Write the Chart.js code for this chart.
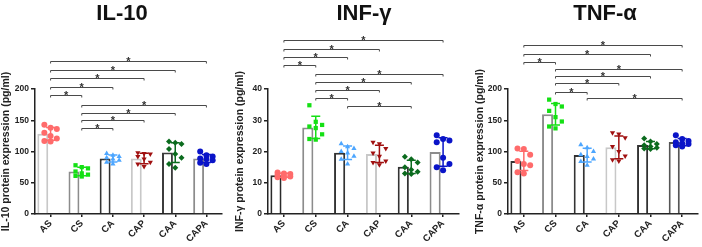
<!DOCTYPE html>
<html><head><meta charset="utf-8">
<script src="https://cdn.jsdelivr.net/npm/chart.js@4.4.1/dist/chart.umd.min.js"></script>
<style>
html,body{margin:0;padding:0;background:#fff;}
#wrap{display:flex;width:702px;height:247px;}
.p{position:relative;width:234px;height:247px;}
canvas{display:block;}
</style></head><body>
<div id="wrap">
<div class="p"><canvas id="c1" width="234" height="247"></canvas></div>
<div class="p"><canvas id="c2" width="234" height="247"></canvas></div>
<div class="p"><canvas id="c3" width="234" height="247"></canvas></div>
</div>
<script>
// ---------- data ----------
const groups = ['AS','CS','CA','CAP','CAA','CAPA'];

const il10Points = [
  [143, 138, 136, 130, 125, 121, 117, 116],
  [78, 75, 73, 68, 65, 63, 61, 60],
  [97, 94, 92, 90, 88, 86, 83, 80],
  [98, 97, 96, 92, 88, 83, 80, 76],
  [116, 114, 112, 104, 96, 90, 80, 74],
  [100, 94, 92, 89, 88, 86, 82, 80]
];
const il10SigFrom  = ['AS','AS','AS','AS','AS','CS','CS','CS','CS'];
const il10SigTo    = ['CAPA','CAA','CAP','CA','CS','CAPA','CAA','CAP','CA'];
const il10SigLevel = [245, 231, 217, 203, 190, 175, 162, 150, 137];
const il10Ticks = [0, 50, 100, 150, 200];

const infPoints = [
  [13.3, 13.0, 12.8, 12.5, 12.2, 12.0, 11.8, 11.5],
  [34.8, 29.5, 28.5, 28, 27.5, 25.5, 24, 23.8],
  [22.5, 21.5, 21, 20, 19.5, 18.5, 17.5, 16],
  [23, 22.5, 21, 19.5, 18.5, 17, 16.5, 15.8],
  [18.3, 17.5, 16.5, 15, 14.2, 13.5, 13, 12.8],
  [25.2, 24, 23.5, 23, 18, 16, 15, 14]
];
const infSigFrom  = ['AS','AS','AS','AS','CS','CS','CS','CS','CA'];
const infSigTo    = ['CAPA','CAP','CA','CS','CAPA','CAA','CAP','CA','CAA'];
const infSigLevel = [55.6, 52.9, 50.4, 47.8, 44.9, 42.2, 39.7, 37.2, 34.6];
const infTicks = [0, 10, 20, 30, 40];

const tnfPoints = [
  [105, 104, 95, 85, 80, 78, 67, 65],
  [183, 176, 172, 165, 155, 148, 140, 137],
  [111, 106, 100, 95, 92, 88, 84, 78],
  [130, 128, 122, 108, 100, 93, 87, 85],
  [121, 116, 112, 110, 108, 106, 105, 104],
  [126, 120, 117, 115, 113, 112, 110, 108]
];
const tnfSigFrom  = ['AS','AS','AS','CS','CS','CS','CS','CA'];
const tnfSigTo    = ['CAPA','CAA','CS','CAPA','CAA','CAP','CA','CAPA'];
const tnfSigLevel = [270, 256, 243, 232, 221, 209, 196, 186];
const tnfTicks = [0, 50, 100, 150, 200];

// ---------- styles ----------
const FONT = "'Liberation Sans', Arial, sans-serif";
const INK = '#222222';
const pointColors = ['#ff6b6b','#14e014','#4da6ff','#a01010','#0b6b1e','#0a14c8'];
const pointShapes = ['circle','rect','triangle','triangle','rectRot','circle'];
const pointRot    = [0,0,0,180,0,0];
const il10BarEdge = ['#c8c8c8','#8c8c8c','#333333','#c8c8c8','#3c3c3c','#8c8c8c'];
const infBarEdge  = ['#2a2a2a','#8c8c8c','#333333','#c8c8c8','#333333','#8c8c8c'];
const tnfBarEdge  = ['#333333','#8c8c8c','#333333','#c8c8c8','#333333','#555555'];

const mean = a => a.reduce((s,v)=>s+v,0)/a.length;
const sd = a => { const m = mean(a); return Math.sqrt(a.reduce((s,v)=>s+(v-m)*(v-m),0)/(a.length-1)); };

const extras = {
  id: 'extras',
  afterDatasetsDraw(chart, args, o) {
    const ctx = chart.ctx, xs = chart.scales.x, ys = chart.scales.y;
    o.points.forEach((vals, i) => {
      const m = mean(vals), s = sd(vals);
      const px = xs.getPixelForValue(i);
      const t = ys.getPixelForValue(m + s), b = ys.getPixelForValue(m - s);
      ctx.save();
      ctx.strokeStyle = pointColors[i]; ctx.lineWidth = 1.5;
      ctx.beginPath();
      ctx.moveTo(px, t); ctx.lineTo(px, b);
      ctx.moveTo(px-4.5, t); ctx.lineTo(px+4.5, t);
      ctx.moveTo(px-4.5, b); ctx.lineTo(px+4.5, b);
      ctx.stroke();
      ctx.restore();
    });
  },
  afterDraw(chart, args, o) {
    const ctx = chart.ctx, xs = chart.scales.x, ys = chart.scales.y;
    ctx.save();
    ctx.strokeStyle = '#4a4a4a'; ctx.fillStyle = '#333'; ctx.lineWidth = 1;
    o.from.forEach((f, k) => {
      const x1 = xs.getPixelForValue(groups.indexOf(f));
      const x2 = xs.getPixelForValue(groups.indexOf(o.to[k]));
      const yy = Math.round(ys.getPixelForValue(o.level[k])) + 0.5;
      ctx.beginPath();
      ctx.moveTo(x1, yy+2); ctx.lineTo(x1, yy); ctx.lineTo(x2, yy); ctx.lineTo(x2, yy+2);
      ctx.stroke();
      ctx.font = 'bold 11px ' + FONT;
      ctx.textAlign = 'center'; ctx.textBaseline = 'alphabetic';
      ctx.fillText('*', (x1+x2)/2, yy + 3.5);
    });
    ctx.font = 'bold 22px ' + FONT;
    ctx.fillStyle = '#111';
    ctx.textAlign = 'center'; ctx.textBaseline = 'middle';
    ctx.fillText(o.title, o.titleX, 14);
    ctx.restore();
  }
};

function build(id, title, titleX, yTitle, points, ticks, edges, from, to, level, padLeft, axisW, padRight) {
  const datasets = [{
    type: 'bar', data: points.map(mean), backgroundColor: '#ffffff',
    borderColor: edges, borderWidth: 2, borderSkipped: 'bottom',
    barPercentage: 0.7, categoryPercentage: 1, order: 5, xAxisID: 'x', yAxisID: 'y'
  }];
  points.forEach((vals, i) => {
    datasets.push({
      type: 'scatter', showLine: false, xAxisID: 'xp', yAxisID: 'y', order: 1,
      data: vals.map((v, j) => ({x: i + ((j % 3) - 1) * 0.2, y: v})),
      pointStyle: pointShapes[i], rotation: pointRot[i], radius: 3,
      backgroundColor: pointColors[i], borderColor: pointColors[i], borderWidth: 0
    });
  });
  new Chart(document.getElementById(id), {
    type: 'bar',
    data: { labels: groups, datasets },
    options: {
      responsive: false, animation: false, devicePixelRatio: 1,
      layout: { padding: { top: 89, right: padRight, left: padLeft, bottom: 0 } },
      plugins: { legend: {display:false}, tooltip: {enabled:false}, title: {display:false},
        extras: { points, from, to, level, title, titleX } },
      scales: {
        x: { type: 'category', offset: true,
          ticks: { color: INK, font: {family: FONT, size: 9.5, weight: 'bold'}, minRotation: 45, maxRotation: 45, autoSkip: false, padding: 1 },
          grid: { display: true, drawOnChartArea: false, offset: false, drawTicks: true, tickLength: 3, color: INK, lineWidth: 1.5 },
          border: { display: true, color: INK, width: 1.5 },
          afterFit(s) { s.height = 33; } },
        xp: { type: 'linear', display: false, offset: false, min: -0.5, max: 5.5, grid: {offset: false} },
        y: { min: ticks[0], max: ticks[ticks.length-1],
          afterBuildTicks(s) { s.ticks = ticks.map(v => ({value: v})); },
          ticks: { color: INK, font: {family: FONT, size: 8.5, weight: 'bold'}, padding: 2 },
          grid: { display: true, drawOnChartArea: false, drawTicks: true, tickLength: 4, color: INK, lineWidth: 1.5 },
          border: { display: true, color: INK, width: 1.5 },
          title: { display: true, text: yTitle, color: INK, font: {family: FONT, size: 10.5, weight: 'bold'}, padding: {top: 0, bottom: 0} },
          afterFit(s) { s.width = axisW; } }
      }
    },
    plugins: [extras]
  });
}

build('c1', 'IL-10', 122, 'IL-10 protein expression (pg/ml)', il10Points, il10Ticks, il10BarEdge, il10SigFrom, il10SigTo, il10SigLevel, 0, 35, 12);
build('c2', 'INF-γ', 130, 'INF-γ protein expression (pg/ml)', infPoints, infTicks, infBarEdge, infSigFrom, infSigTo, infSigLevel, 0, 34, 9);
build('c3', 'TNF-α', 137, 'TNF-α protein expression (pg/ml)', tnfPoints, tnfTicks, tnfBarEdge, tnfSigFrom, tnfSigTo, tnfSigLevel, 6, 34, 3);
</script>
</body></html>
